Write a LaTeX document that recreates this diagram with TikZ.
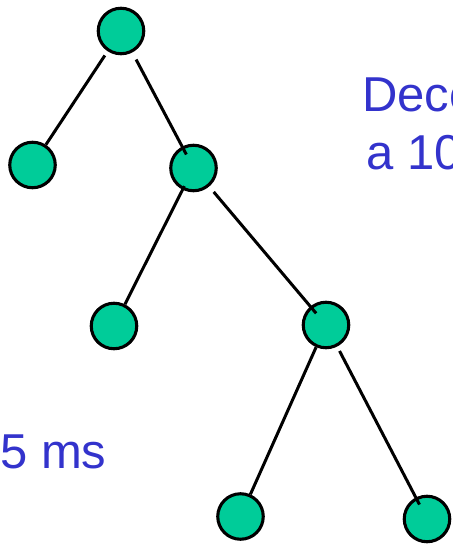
\documentclass[tikz,border=0pt]{standalone}
\usepackage{fontspec}
\setmainfont{Liberation Sans}
\definecolor{leaf}{RGB}{0,204,153}
\definecolor{caption}{RGB}{51,51,204}
\begin{document}
\begin{tikzpicture}[x=1pt,y=-1pt,
  tnode/.style={circle,draw=black,fill=leaf,line width=3.1pt,minimum size=45.5pt,inner sep=0pt},
  edge/.style={draw=black,line width=3pt},
  label/.style={text=caption,font=\fontsize{49}{58}\selectfont,inner sep=0pt}]
\useasboundingbox (0,0) rectangle (452,545);
\clip (0,0) rectangle (452,545);

% tree nodes
\node[tnode] (r)   at (121,31)    {};
\node[tnode] (l)   at (32.5,165)  {};
\node[tnode] (m)   at (193.5,168) {};
\node[tnode] (ml)  at (114,326)   {};
\node[tnode] (mr)  at (326,325)   {};
\node[tnode] (bl)  at (240.5,516.5) {};
\node[tnode] (br)  at (427,519)   {};

% connectors (drawn over the discs)
\draw[edge, shorten <=5pt] (r) -- (l);
\draw[edge, shorten <=8pt, shorten >=-9pt] (r) -- (m);
\draw[edge, shorten <=-4pt] (m) -- (ml);
\draw[edge, shorten <=7pt, shorten >=-9pt] (m) -- (mr);
\draw[edge] (mr) -- (bl);
\draw[edge, shorten <=5pt, shorten >=-8pt] (mr) -- (br);

% captions
\node[label,anchor=base west] (t1) at (362,112) {Deco};
\node[label,anchor=base west] (t2) at (366,170) {a 10};
\node[label,anchor=base west] (t3) at (0,468) {5 ms};
\end{tikzpicture}
\end{document}
